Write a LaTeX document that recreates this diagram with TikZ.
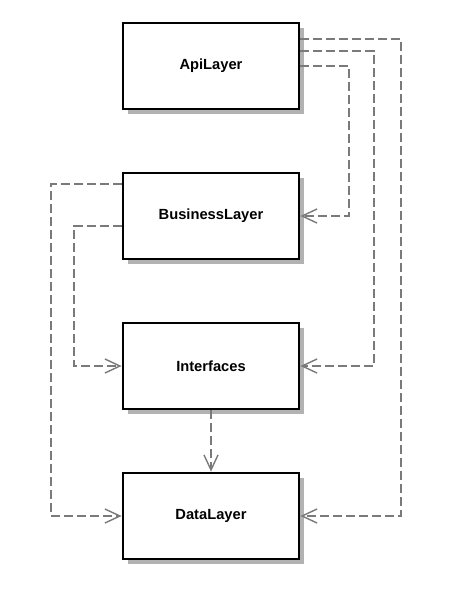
\documentclass[tikz,border=0pt]{standalone}
\usepackage{fontspec}
\setmainfont{Liberation Sans}
\usetikzlibrary{arrows.meta,shadows}
\begin{document}
\begin{tikzpicture}[x=1pt,y=-1pt,
  layer/.style={draw=black, line width=2.8pt, fill=white, minimum width=176pt, minimum height=86pt,
    inner sep=0pt, font=\fontsize{14.7}{16}\selectfont\bfseries,
    drop shadow={shadow xshift=4.5pt, shadow yshift=-4.5pt, fill=black!30, opacity=1}},
  dep/.style={draw=black!52, line width=2.2pt, dash pattern=on 9pt off 4pt,
    -{Straight Barb[length=15pt,width=14pt,line width=1.4pt]}}
]
\useasboundingbox (0,0) rectangle (476,598);
\fill[white] (0,0) rectangle (476,598);
\node[layer] (api) at (211,66) {ApiLayer};
\node[layer] (bus) at (211,216) {BusinessLayer};
\node[layer] (int) at (211,366) {Interfaces};
\node[layer] (dat) at (211,516) {DataLayer};
% from ApiLayer
\draw[dep] (api.east |- 0,39) -- (401,39) -- (401,516) -- (dat.east);
\draw[dep] (api.east |- 0,51) -- (374,51) -- (374,366) -- (int.east);
\draw[dep] (api.east |- 0,66) -- (349,66) -- (349,216) -- (bus.east);
% from BusinessLayer
\draw[dep] (bus.west |- 0,184) -- (51,184) -- (51,516) -- (dat.west);
\draw[dep] (bus.west |- 0,226) -- (74,226) -- (74,366) -- (int.west);
% Interfaces to DataLayer
\draw[dep] (int.south) -- (dat.north);
\end{tikzpicture}
\end{document}
